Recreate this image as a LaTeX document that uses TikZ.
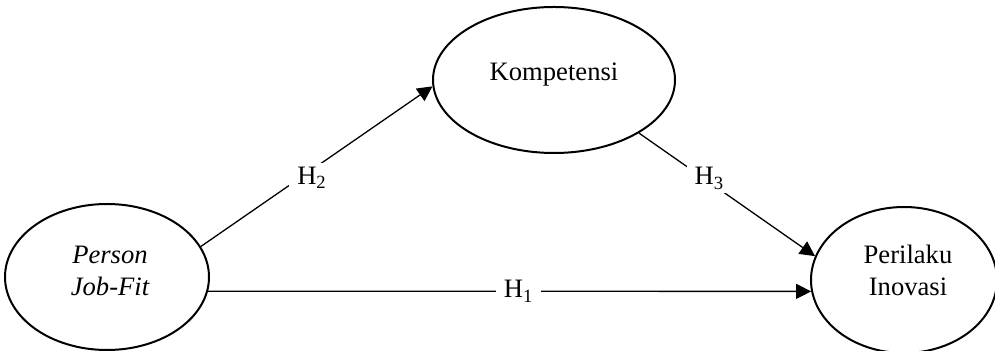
\documentclass[tikz,border=0pt]{standalone}
\usepackage{fontspec}
\setmainfont{Liberation Serif}
\usetikzlibrary{arrows.meta,shapes.geometric}

\begin{document}
\begin{tikzpicture}[
    x=0.5pt, y=-0.5pt,
    font=\fontsize{13.3}{16}\selectfont,
    var/.style={draw, ellipse, line width=1pt, inner sep=0pt, minimum height=73pt},
    vartext/.style={align=center, inner sep=0pt},
    hyp/.style={line width=0.65pt, -{Triangle[length=7.5pt,width=7.5pt]}},
    hlab/.style={fill=white, inner xsep=4pt, inner ysep=2pt},
  ]
\useasboundingbox (0,0) rectangle (995,351);

\node[var, minimum width=102pt] (pjf) at (107,277) {};
\node[var, minimum width=121pt] (kom) at (554,80) {};
\node[var, minimum width=93pt] (pi) at (904,280) {};

\node[vartext, font=\fontsize{13.3}{16}\selectfont\itshape] (pjf-t) at (110,271) {Person\\Job-Fit};
\node[vartext] (kom-t) at (554,75) {Kompetensi};
\node[vartext] (pi-t) at (908,270) {Perilaku\\Inovasi};

\draw[hyp] (pjf.-8.5) -- node[hlab, pos=0.515] (h1) {H\textsubscript{1}} (pi.187.5);
\draw[hyp] (pjf.18.3) -- node[hlab, pos=0.48, yshift=-4pt] (h2) {H\textsubscript{2}} (kom.183.75);
\draw[hyp] (kom.-32.1) -- node[hlab, pos=0.4, yshift=2pt] (h3) {H\textsubscript{3}} (pi.165.8);

\end{tikzpicture}
\end{document}
